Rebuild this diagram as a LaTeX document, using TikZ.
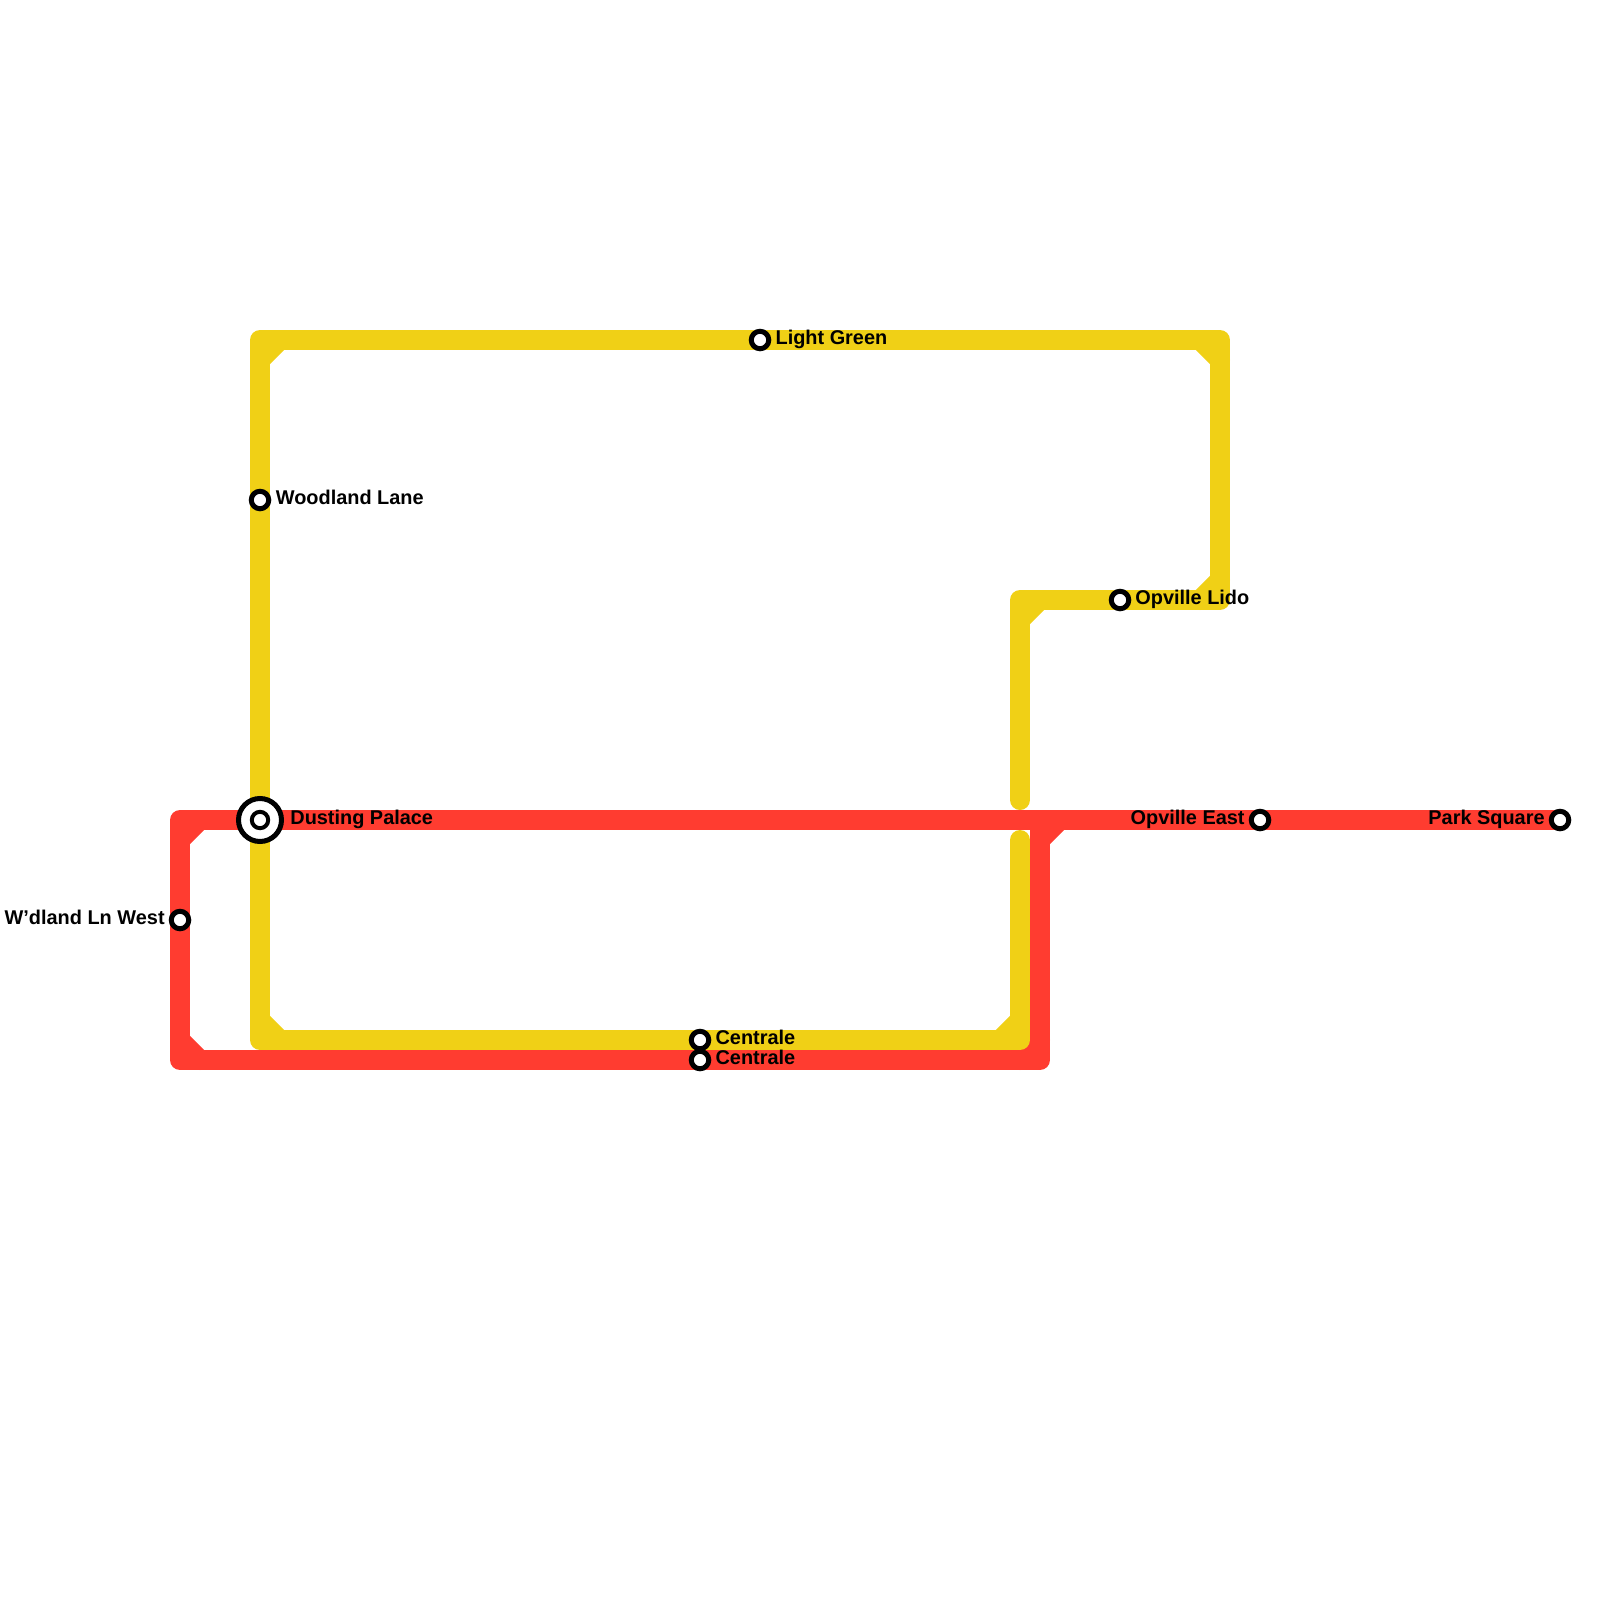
\documentclass[tikz,border=0pt]{standalone}
\usepackage{fontspec}
\setmainfont{Liberation Sans}
\tikzset{
  redline/.style={draw={rgb,255:red,255;green,60;blue,48}, line width=10pt, line cap=round, line join=round},
  yellowline/.style={draw={rgb,255:red,240;green,208;blue,22}, line width=10pt, line cap=round, line join=round},
  stn/.style={circle, draw=black, fill=white, line width=2.5pt, minimum size=8.75pt, inner sep=0pt, outer sep=0pt},
  bigstn/.style={circle, draw=black, fill=white, line width=2.5pt, minimum size=21.5pt, inner sep=0pt, outer sep=0pt},
  hubstn/.style={circle, draw=black, fill=white, line width=2pt, minimum size=8.2pt, inner sep=0pt, outer sep=0pt},
  lbl/.style={font=\bfseries\fontsize{9.95}{12}\selectfont, text=black, inner sep=0pt, anchor=base west},
  lblr/.style={font=\bfseries\fontsize{9.95}{12}\selectfont, text=black, inner sep=0pt, anchor=base east}
}
\begin{document}
\begin{tikzpicture}[x=0.5pt,y=-0.5pt]
\useasboundingbox (0,0) rectangle (1600,1600);
% corners, chamfer ends
\coordinate (rTL) at (180,820);
\coordinate (rTLa) at (180,840);
\coordinate (rTLb) at (200,820);
\coordinate (rBL) at (180,1060);
\coordinate (rBLa) at (180,1040);
\coordinate (rBLb) at (200,1060);
\coordinate (rBR) at (1040,1060);
\coordinate (rBRa) at (1040,1040);
\coordinate (rBRb) at (1020,1060);
\coordinate (rTR) at (1040,820);
\coordinate (rTRa) at (1040,840);
\coordinate (rTRb) at (1060,820);
\coordinate (yTL) at (260,340);
\coordinate (yTLa) at (260,360);
\coordinate (yTLb) at (280,340);
\coordinate (yTR) at (1220,340);
\coordinate (yTRa) at (1220,360);
\coordinate (yTRb) at (1200,340);
\coordinate (yMR) at (1220,600);
\coordinate (yMRa) at (1220,580);
\coordinate (yMRb) at (1200,600);
\coordinate (yML) at (1020,600);
\coordinate (yMLa) at (1020,620);
\coordinate (yMLb) at (1040,600);
\coordinate (yE1) at (1020,800);
\coordinate (yE2) at (1020,840);
\coordinate (yBR) at (1020,1040);
\coordinate (yBRa) at (1020,1020);
\coordinate (yBRb) at (1000,1040);
\coordinate (yBL) at (260,1040);
\coordinate (yBLa) at (260,1020);
\coordinate (yBLb) at (280,1040);
% stations
\coordinate (pDust) at (260,820);
\coordinate (pEnd) at (1560,820);
% red line
\path[redline] (pEnd) -- (rTL) -- (rBL) -- (rBR) -- (rTR);
\path[redline] (rTLa) -- (rTLb);
\path[redline] (rBLa) -- (rBLb);
\path[redline] (rTRa) -- (rTRb);
\path[redline] (rBRa) -- (rBRb);
% yellow line
\path[yellowline] (yE1) -- (yML) -- (yMR) -- (yTR) -- (yTL) -- (pDust);
\path[yellowline] (pDust) -- (yBL) -- (yBR) -- (yE2);
\path[yellowline] (yTLa) -- (yTLb);
\path[yellowline] (yTRa) -- (yTRb);
\path[yellowline] (yMRa) -- (yMRb);
\path[yellowline] (yMLa) -- (yMLb);
\path[yellowline] (yBRa) -- (yBRb);
\path[yellowline] (yBLa) -- (yBLb);
% stations
\node[bigstn] (sDustO) at (pDust) {};
\node[hubstn] (sDust) at (pDust) {};
\node[stn] (sWest) at (180,920) {};
\node[stn] (sWood) at (260,500) {};
\node[stn] (sLight) at (760,340) {};
\node[stn] (sLido) at (1120,600) {};
\node[stn] (sCenY) at (700,1040) {};
\node[stn] (sCenR) at (700,1060) {};
\node[stn] (sEast) at (1260,820) {};
\node[stn] (sPark) at (1560,820) {};
% labels
\node[lbl] (tDust) at (290,824.9) {Dusting Palace};
\node[lblr] (tWest) at (165,924.9) {W’dland Ln West};
\node[lbl] (tWood) at (275.5,504.9) {Woodland Lane};
\node[lbl] (tLight) at (775.2,344.7) {Light Green};
\node[lbl] (tLido) at (1135,604.9) {Opville Lido};
\node[lbl] (tCenY) at (715.2,1044.9) {Centrale};
\node[lbl] (tCenR) at (715.2,1064.9) {Centrale};
\node[lblr] (tEast) at (1245,824.7) {Opville East};
\node[lblr] (tPark) at (1545,824.7) {Park Square};
\end{tikzpicture}
\end{document}
